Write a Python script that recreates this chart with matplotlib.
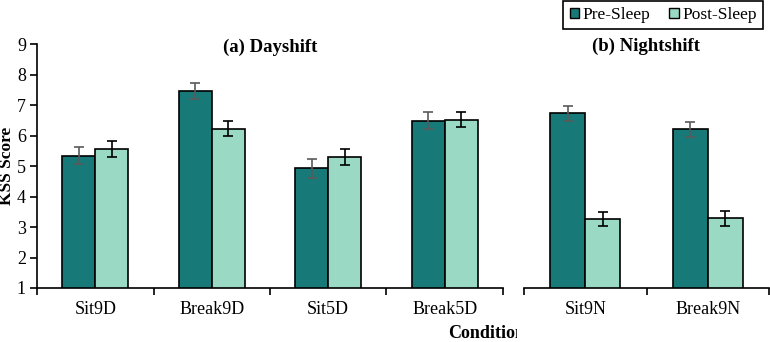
import matplotlib.pyplot as plt
import numpy as np
from matplotlib.transforms import Bbox

# data
day_conditions = ['Sit9D', 'Break9D', 'Sit5D', 'Break5D']
day_pre = [5.34, 7.45, 4.92, 6.49]
day_post = [5.56, 6.22, 5.30, 6.52]
day_pre_err = [0.27, 0.26, 0.30, 0.27]
day_post_err = [0.26, 0.25, 0.27, 0.24]

night_conditions = ['Sit9N', 'Break9N']
night_pre = [6.73, 6.20]
night_post = [3.26, 3.28]
night_pre_err = [0.25, 0.24]
night_post_err = [0.23, 0.25]

pre_color = '#177a78'
post_color = '#9adac4'

plt.rcParams['font.family'] = ['Liberation Serif', 'DejaVu Serif']

fig = plt.figure(figsize=(7.7, 3.42), dpi=100)
W, H = 770, 342


def px_axes(x0, x1, ytop, ybot):
    return fig.add_axes([x0 / W, (H - ybot) / H, (x1 - x0) / W, (ybot - ytop) / H])


ax1 = px_axes(37, 503, 44, 288)
ax2 = px_axes(524, 769, 44, 288)


def draw_panel(ax, cats, pre, post, pre_err, post_err, title, title_y):
    x = np.arange(len(cats))
    w = 0.285
    b1 = ax.bar(x - w / 2, pre, w, color=pre_color, edgecolor='black', linewidth=1.2,
                label='Pre-Sleep', zorder=2)
    b2 = ax.bar(x + w / 2, post, w, color=post_color, edgecolor='black', linewidth=1.2,
                label='Post-Sleep', zorder=2)
    ax.errorbar(x - w / 2, pre, yerr=pre_err, fmt='none', ecolor='#5a5a5a',
                elinewidth=1.2, capsize=3.5, capthick=1.2, zorder=3)
    ax.errorbar(x + w / 2, post, yerr=post_err, fmt='none', ecolor='black',
                elinewidth=1.2, capsize=3.5, capthick=1.2, zorder=3)
    ax.set_xlim(-0.5, len(cats) - 0.5)
    ax.set_ylim(1, 9)
    ax.set_xticks(x)
    ax.set_xticklabels(cats, fontsize=13)
    ax.set_xticks(np.arange(len(cats) + 1) - 0.5, minor=True)
    ax.tick_params(axis='x', which='major', length=0, pad=9)
    ax.tick_params(axis='x', which='minor', length=5, width=1.2, direction='out')
    for s in ['top', 'right']:
        ax.spines[s].set_visible(False)
    ax.spines['bottom'].set_linewidth(1.2)
    ax.text(0.5, title_y, title, transform=ax.transAxes, ha='center', va='center',
            fontsize=13.5, fontweight='bold')
    return b1, b2


b1, b2 = draw_panel(ax1, day_conditions, day_pre, day_post, day_pre_err, day_post_err,
                    '(a) Dayshift', (288 - 47) / 244)
draw_panel(ax2, night_conditions, night_pre, night_post, night_pre_err, night_post_err,
           '(b) Nightshift', (288 - 46) / 244)

ax1.set_yticks(range(1, 10))
ax1.tick_params(axis='y', labelsize=13, length=5, width=1.2, direction='out', pad=3)
ax1.spines['left'].set_linewidth(1.2)
fig.text(7 / W, 1 - 166 / H, 'KSS Score', rotation=90, ha='center', va='center',
         fontsize=12.5, fontweight='bold')

ax2.spines['left'].set_visible(False)
ax2.set_yticks([])

leg = fig.legend([b1, b2], ['Pre-Sleep', 'Post-Sleep'], loc='upper right',
                 bbox_to_anchor=(763 / W, 1 - 1 / H), borderaxespad=0, ncol=2,
                 fontsize=12.5, frameon=True, fancybox=False, edgecolor='black',
                 framealpha=1, handlelength=0.55, handleheight=0.55, handletextpad=0.2,
                 columnspacing=1.1, borderpad=0.35)
leg.get_frame().set_linewidth(1.2)
leg._legend_box.set_offset  # keep default packing
for p in leg.get_patches():
    p.set_linewidth(1.0)

t = fig.text(448 / W, 1 - 338 / H, 'Condition', ha='left', va='baseline',
             fontsize=13, fontweight='bold')
t.set_clip_box(Bbox.from_extents(0, 0, 517, H))
t.set_clip_on(True)

fig.savefig('out.png', dpi=100)
